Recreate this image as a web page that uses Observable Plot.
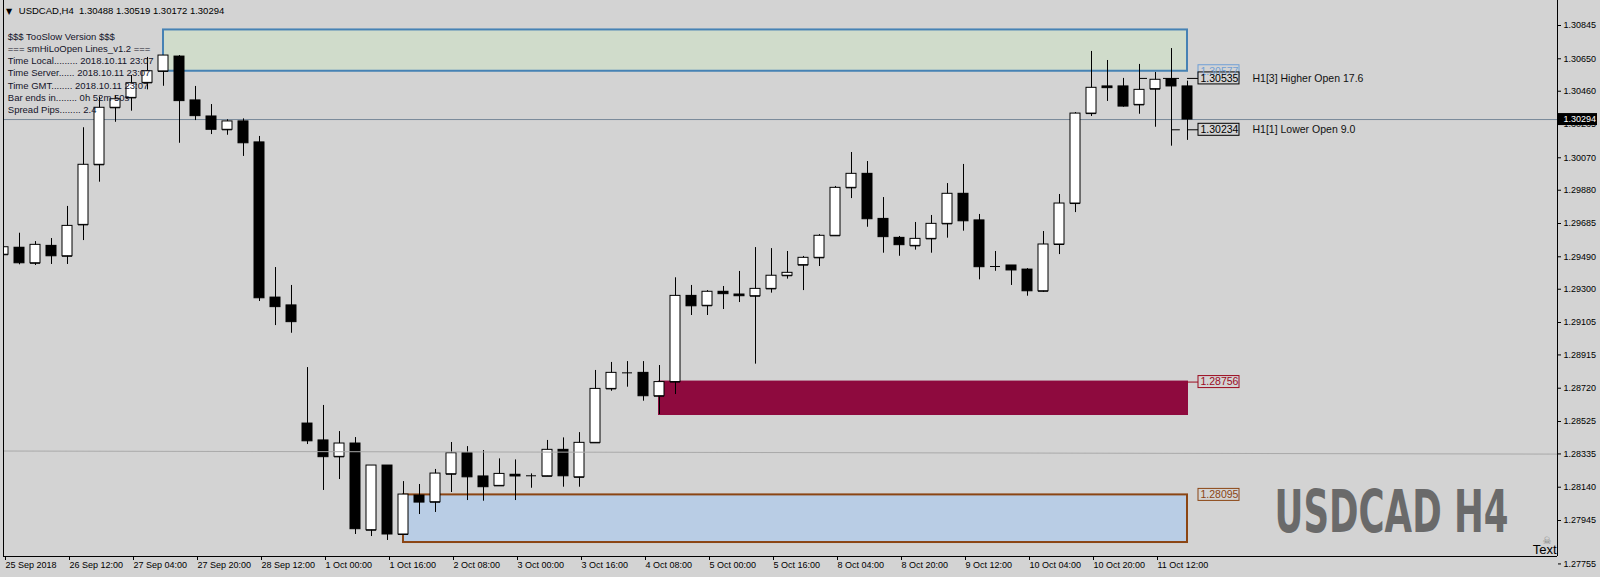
<!DOCTYPE html>
<html><head><meta charset="utf-8">
<script src="https://cdn.jsdelivr.net/npm/d3@7"></script>
<script src="https://cdn.jsdelivr.net/npm/@observablehq/plot@0.6"></script>
<style>
html,body{margin:0;padding:0;background:#d3d3d3;overflow:hidden;}
svg{display:block;}
</style></head><body>
<script>
// ---- USDCAD H4 candles (bar 0 = 25 Sep 2018 20:00) ----
const opens  = [1.29502,1.29543,1.29452,1.29554,1.29493,1.29677,1.30029,1.30363,1.30421,1.30509,
                1.30576,1.30663,1.30406,1.30312,1.30234,1.30283,1.30160,1.29251,1.29205,1.28513,
                1.28414,1.28318,1.28396,1.27888,1.28267,1.27863,1.28091,1.28052,1.28216,1.28339,
                1.28203,1.28148,1.28213,1.28207,1.28204,1.28359,1.28198,1.28400,1.28716,1.28810,
                1.28810,1.28673,1.28756,1.29261,1.29203,1.29285,1.29269,1.29259,1.29302,1.29379,
                1.29441,1.29484,1.29613,1.29894,1.29976,1.29712,1.29601,1.29554,1.29595,1.29683,
                1.29859,1.29703,1.29433,1.29439,1.29415,1.29288,1.29562,1.29802,1.30329,1.30488,
                1.30488,1.30380,1.30472,1.30530,1.30488];
const highs  = [1.29556,1.29628,1.29579,1.29597,1.29785,1.30246,1.30425,1.30435,1.30552,1.30658,
                1.30669,1.30669,1.30488,1.30382,1.30293,1.30298,1.30195,1.29427,1.29322,1.28841,
                1.28619,1.28466,1.28431,1.28267,1.28267,1.28173,1.28156,1.28244,1.28402,1.28378,
                1.28355,1.28306,1.28300,1.28218,1.28414,1.28429,1.28460,1.28824,1.28871,1.28876,
                1.28876,1.28853,1.29367,1.29322,1.29292,1.29316,1.29404,1.29544,1.29538,1.29521,
                1.29492,1.29620,1.29902,1.30101,1.30048,1.29837,1.29609,1.29691,1.29732,1.29919,
                1.30031,1.29738,1.29521,1.29439,1.29421,1.29638,1.29855,1.30335,1.30693,1.30640,
                1.30535,1.30617,1.30570,1.30710,1.30519];
const lows   = [1.29449,1.29443,1.29439,1.29445,1.29445,1.29585,1.29927,1.30278,1.30343,1.30468,
                1.30489,1.30155,1.30288,1.30206,1.30202,1.30078,1.29228,1.29087,1.29042,1.28390,
                1.28121,1.28185,1.27863,1.27851,1.27828,1.27863,1.27980,1.27992,1.28109,1.28062,
                1.28058,1.28148,1.28062,1.28134,1.28204,1.28140,1.28140,1.28400,1.28702,1.28726,
                1.28644,1.28566,1.28683,1.29146,1.29146,1.29181,1.29222,1.28861,1.29277,1.29359,
                1.29292,1.29433,1.29613,1.29831,1.29663,1.29511,1.29493,1.29529,1.29511,1.29599,
                1.29640,1.29355,1.29405,1.29322,1.29259,1.29282,1.29503,1.29749,1.30312,1.30400,
                1.30366,1.30325,1.30249,1.30138,1.30172];
const closes = [1.29546,1.29452,1.29560,1.29493,1.29671,1.30029,1.30363,1.30413,1.30507,1.30577,
                1.30669,1.30402,1.30314,1.30234,1.30283,1.30155,1.29247,1.29195,1.29107,1.28409,
                1.28316,1.28396,1.27894,1.28267,1.27863,1.28097,1.28050,1.28220,1.28339,1.28198,
                1.28140,1.28218,1.28203,1.28207,1.28359,1.28204,1.28400,1.28716,1.28810,1.28810,
                1.28673,1.28756,1.29261,1.29200,1.29285,1.29271,1.29259,1.29302,1.29379,1.29396,
                1.29484,1.29613,1.29894,1.29976,1.29710,1.29605,1.29558,1.29595,1.29683,1.29859,
                1.29698,1.29429,1.29433,1.29410,1.29288,1.29562,1.29802,1.30329,1.30480,1.30478,
                1.30370,1.30468,1.30527,1.30488,1.30294];

// ---- axis ticks ----
const timeTickBars   = [0,4,8,12,16,20,24,28,32,36,40,44,48,52,56,60,64,68,72];
const timeTickLabels = ["25 Sep 2018","26 Sep 12:00","27 Sep 04:00","27 Sep 20:00","28 Sep 12:00",
                        "1 Oct 00:00","1 Oct 16:00","2 Oct 08:00","3 Oct 00:00","3 Oct 16:00",
                        "4 Oct 08:00","5 Oct 00:00","5 Oct 16:00","8 Oct 04:00","8 Oct 20:00",
                        "9 Oct 12:00","10 Oct 04:00","10 Oct 20:00","11 Oct 12:00"];
const priceTicks = [1.30845,1.30650,1.30460,1.30265,1.30070,1.29880,1.29685,1.29490,1.29300,
                    1.29105,1.28915,1.28720,1.28525,1.28335,1.28140,1.27945];
const lastPriceTick = 1.27755;
const bidPrice = 1.30294;

// ---- zones (rectangles) ----
const zoneStartBar = [10, 25, 41];
const zoneEndBar   = [74, 74, 74];
const zoneLow      = [1.30577, 1.27816, 1.28566];
const zoneHigh     = [1.30819, 1.28095, 1.28756];
const zoneFill     = ["#d0dccb", "#b9cde5", "#8e0a3e"];
const zoneStroke   = ["#4682b4", "#8b4513", "#8e0a3e"];

// ---- price label boxes ----
const boxPrices  = [1.30577, 1.30535, 1.30234, 1.28756, 1.28095];
const boxStroke  = ["#6f9fd6", "#000000", "#000000", "#9b0a1e", "#8b4513"];
const boxText    = ["#6f9fd6", "#000000", "#000000", "#9b0a1e", "#8b4513"];

// ---- H1 open lines ----
const openLineNames  = ["H1[3] Higher Open 17.6", "H1[1] Lower Open 9.0"];
const openLinePrices = [1.30535, 1.30234];
const openSegStart   = [[71, 72.5, 74], [73, 74]];
const openSegEnd     = [[71.5, 73.5, 74.69], [73.55, 74.69]];

// ---- trend line ----
const trendBars   = [0, 97.125];
const trendPrices = [1.28352, 1.28334];

// ---- texts ----
const headerText = "USDCAD,H4  1.30488 1.30519 1.30172 1.30294";
const infoLines = ["$$$ TooSlow Version $$$",
                   "=== smHiLoOpen Lines_v1.2 ===",
                   "Time Local......... 2018.10.11 23:07",
                   "Time Server...... 2018.10.11 23:07",
                   "Time GMT........ 2018.10.11 23:07",
                   "Bar ends in........ 0h 52m 50s",
                   "Spread Pips........ 2.4"];
const bigTitle = "USDCAD H4";

// ---------- build tables ----------
const candles = opens.map((o, i) => ({i, o, h: highs[i], l: lows[i], c: closes[i]}));
const zones = zoneStartBar.map((s, k) => ({s, e: zoneEndBar[k], lo: zoneLow[k], hi: zoneHigh[k], fill: zoneFill[k], stroke: zoneStroke[k]}));
const boxes = boxPrices.map((p, k) => ({p, stroke: boxStroke[k], color: boxText[k], label: p.toFixed(5)}));
const segs = [];
openLinePrices.forEach((p, k) => openSegStart[k].forEach((s, j) => segs.push({p, s, e: openSegEnd[k][j]})));
const openLabels = openLinePrices.map((p, k) => ({p, name: openLineNames[k]}));
const trend = trendBars.map((b, k) => ({b, p: trendPrices[k]}));
const lastBar = opens.length - 1;
const xDomain = [0, 97.125];
const yDomain = [1.277341, 1.309915];
const tickLabelOf = d => timeTickLabels[timeTickBars.indexOf(d)];

const chart = Plot.plot({
  width: 1600, height: 577,
  marginLeft: 3, marginRight: 43, marginTop: 0, marginBottom: 21,
  style: {background: "#d3d3d3", fontFamily: "'Liberation Sans', Arial, sans-serif", fontSize: "9px", color: "#000", overflow: "visible"},
  x: {domain: xDomain, axis: null},
  y: {domain: yDomain, axis: null},
  marks: [
    Plot.rect(zones, {x1: "s", x2: "e", y1: "lo", y2: "hi", fill: d => d.fill, stroke: d => d.stroke, strokeWidth: 2}),
    Plot.ruleY([bidPrice], {stroke: "#778899", strokeWidth: 1}),
    Plot.ruleY(segs, {y: "p", x1: "s", x2: "e", stroke: "#000"}),
    Plot.ruleX(candles, {x: "i", y1: "l", y2: "h", stroke: "#000", clip: true}),
    Plot.rect(candles, {x1: d => d.i - 0.3125, x2: d => d.i + 0.3125, y1: "o", y2: "c",
      fill: d => d.c >= d.o ? "#ffffff" : "#000000", stroke: "#000", strokeWidth: 1, clip: true}),
    Plot.ruleY(candles, {y: "o", x1: d => d.i - 0.3125, x2: d => d.i + 0.3125, stroke: "#000", clip: true}),
    Plot.line(trend, {x: "b", y: "p", stroke: "#a9a9a9", strokeWidth: 1, clip: true}),
    Plot.ruleX(xDomain, {stroke: "#000"}),
    Plot.ruleY([yDomain[0]], {stroke: "#000"}),
    Plot.axisY(priceTicks, {anchor: "right", tickSize: 3, tickPadding: 3, tickFormat: d => d.toFixed(5), fontSize: 9, textAnchor: "start", label: null}),
    Plot.axisY([lastPriceTick], {anchor: "right", tickSize: 3, tickPadding: 3, tickFormat: d => d.toFixed(5), fontSize: 9, textAnchor: "start", label: null, dy: 11}),
    Plot.axisX(timeTickBars, {anchor: "bottom", tickSize: 4, tickPadding: 1, tickFormat: tickLabelOf, fontSize: 9, textAnchor: "start", dx: 2, label: null}),
    Plot.rect([bidPrice], {x1: xDomain[1], x2: xDomain[1], y1: d => d, y2: d => d, insetLeft: 1, insetRight: -40, insetTop: -6, insetBottom: -6, fill: "#000"}),
    Plot.text([bidPrice], {x: xDomain[1], y: d => d, text: d => d.toFixed(5), dx: 6, textAnchor: "start", fill: "#fff", fontSize: 9}),
    Plot.ruleY([zoneHigh[2]], {y: d => d, x1: lastBar, x2: lastBar + 0.69, stroke: "#9b0a1e"}),
    Plot.rect(boxes, {x1: lastBar, x2: lastBar, y1: "p", y2: "p", insetLeft: 11, insetRight: -52, insetTop: -6, insetBottom: -6, fill: "#d3d3d3", stroke: d => d.stroke, strokeWidth: 1}),
    Plot.text(boxes, {x: lastBar, y: "p", text: "label", dx: 13, textAnchor: "start", fill: d => d.color, fontSize: 10.5}),
    Plot.text(openLabels, {x: lastBar, y: "p", text: "name", dx: 65, textAnchor: "start", fill: "#111", fontSize: 10.5}),
    Plot.text(["\u25BC"], {text: d => d, frameAnchor: "top-left", dx: 5.5, dy: 10.5, textAnchor: "middle", lineAnchor: "middle", fontSize: 8, fill: "#000", fontFamily: "DejaVu Sans"}),
    Plot.text([headerText], {text: d => d, frameAnchor: "top-left", dx: 15.3, dy: 7.2, textAnchor: "start", lineAnchor: "top", fontSize: 9.5, fill: "#000"}),
    Plot.text([infoLines.join("\n")], {text: d => d, frameAnchor: "top-left", dx: 4.3, dy: 31, lineAnchor: "top", textAnchor: "start", lineHeight: 1.275, fontSize: 9.5, fill: "#14142a"}),
    Plot.text([bigTitle], {text: d => d, frameAnchor: "bottom-right", dx: -49, dy: -25, textAnchor: "end", lineAnchor: "bottom", fontSize: 58, fontWeight: "bold", fontFamily: "DejaVu Sans", fill: "#6a6a6a"}),
    Plot.text(["\u2620"], {text: d => d, frameAnchor: "bottom-right", dx: -10.5, dy: -13, textAnchor: "middle", lineAnchor: "bottom", fontSize: 10, fill: "#808080", fontFamily: "DejaVu Sans"}),
    Plot.text(["Text"], {text: d => d, frameAnchor: "bottom-right", dx: -1, dy: -3, textAnchor: "end", lineAnchor: "bottom", fontSize: 13, fill: "#000"})
  ]
});
document.body.appendChild(chart);
// condense the big watermark title horizontally (Impact-like look), scaling about its right/baseline anchor
d3.select(chart).selectAll("text").filter(function(){ return this.textContent === bigTitle; })
  .each(function(){
    const w = this.getComputedTextLength();
    const k = 234 / w;
    const tr = this.getAttribute("transform") || "";
    const x = +(this.getAttribute("x") || 0), y = +(this.getAttribute("y") || 0);
    this.setAttribute("x", 0);
    this.setAttribute("y", 0);
    this.setAttribute("transform", (tr + " translate(" + x + "," + y + ") scale(" + k + ",1)").trim());
  });
</script>
</body></html>
